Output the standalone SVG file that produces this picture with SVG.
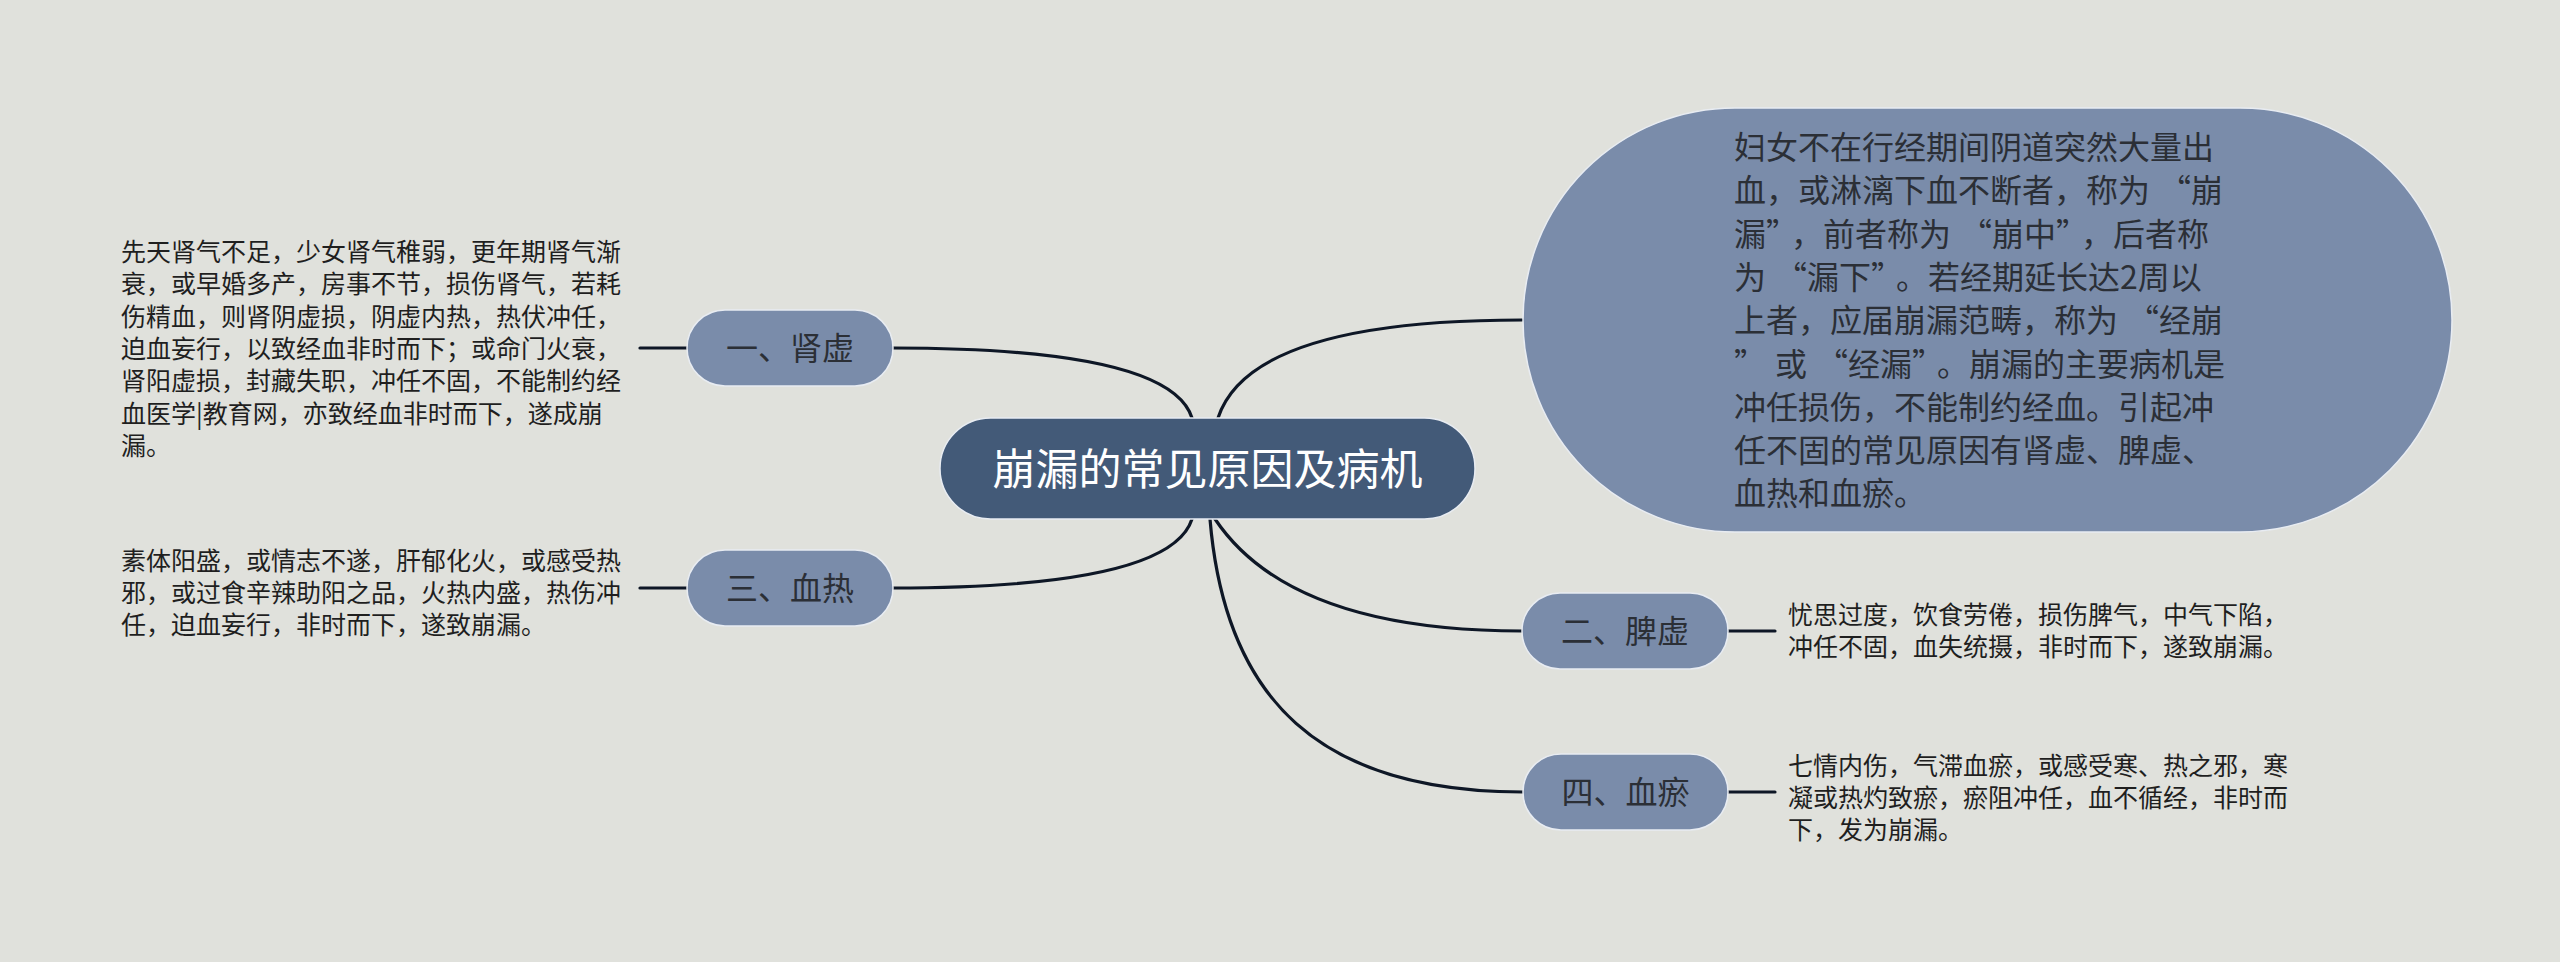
<svg xmlns="http://www.w3.org/2000/svg" width="2560" height="962" viewBox="0 0 2560 962">
<style>
.bg{fill:#e0e1dc}
.conn{fill:none;stroke:#0e1726;stroke-width:3.2;stroke-linecap:round}
.root{fill:#435a78;stroke:#e8ecf2;stroke-width:1.5}
.sub{fill:#7a8caa;stroke:#e8ecf2;stroke-width:1.5}
.t{font-family:"Noto Sans CJK SC","Noto Sans CJK JP",sans-serif}
.rt{font-size:43px;fill:#ffffff;text-anchor:middle}
.st{font-size:32px;fill:#2b2f36;text-anchor:middle}
.bt{font-size:32px;fill:#2b2f36}
.lt{font-size:25px;fill:#1f1f1f}
.qc{letter-spacing:9px}
</style>
<rect class="bg" x="0" y="0" width="2560" height="962"/>
<g id="connectors">
<path class="conn" d="M1192,418 Q1170,348 893,348"/>
<path class="conn" d="M1218,418 Q1250,320 1522,320"/>
<path class="conn" d="M1192,519 Q1170,588 893,588"/>
<path class="conn" d="M1215,519 Q1290,631 1522,631"/>
<path class="conn" d="M1210,519 C1225,700 1320,792 1523,792"/>
<path class="conn" d="M640,348 L687,348"/>
<path class="conn" d="M640,588 L687,588"/>
<path class="conn" d="M1728,631 L1775,631"/>
<path class="conn" d="M1728,792 L1775,792"/>
</g>
<g id="root">
<rect class="root" x="940" y="418" width="535" height="101" rx="50.5"/>
<text class="t rt" x="1207.5" y="485">崩漏的常见原因及病机</text>
</g>
<g id="intro">
<rect class="sub" x="1523" y="108" width="929" height="424" rx="212"/>
<text class="t bt" x="1734">
<tspan x="1734" y="159">妇女不在行经期间阴道突然大量出</tspan>
<tspan x="1734" y="202.3">血，或淋漓下血不断者，称为<tspan dx="9">“</tspan>崩</tspan>
<tspan x="1734" y="245.6">漏<tspan class="qc">”</tspan>，前者称为<tspan dx="9">“</tspan>崩中<tspan class="qc">”</tspan>，后者称</tspan>
<tspan x="1734" y="288.9">为<tspan dx="9">“</tspan>漏下<tspan class="qc">”</tspan>。若经期延长达2周以</tspan>
<tspan x="1734" y="332.2">上者，应届崩漏范畴，称为<tspan dx="9">“</tspan>经崩</tspan>
<tspan x="1734" y="375.5"><tspan class="qc">”</tspan>或<tspan dx="9">“</tspan>经漏<tspan class="qc">”</tspan>。崩漏的主要病机是</tspan>
<tspan x="1734" y="418.8">冲任损伤，不能制约经血。引起冲</tspan>
<tspan x="1734" y="462.1">任不固的常见原因有肾虚、脾虚、</tspan>
<tspan x="1734" y="505.4">血热和血瘀。</tspan>
</text>
</g>
<g id="shenxu">
<rect class="sub" x="687" y="310" width="206" height="76" rx="38"/>
<text class="t st" x="790" y="360">一、肾虚</text>
</g>
<g id="shenxu-text">
<text class="t lt">
<tspan x="121" y="261">先天肾气不足，少女肾气稚弱，更年期肾气渐</tspan>
<tspan x="121" y="293.3">衰，或早婚多产，房事不节，损伤肾气，若耗</tspan>
<tspan x="121" y="325.6">伤精血，则肾阴虚损，阴虚内热，热伏冲任，</tspan>
<tspan x="121" y="357.9">迫血妄行，以致经血非时而下；或命门火衰，</tspan>
<tspan x="121" y="390.2">肾阳虚损，封藏失职，冲任不固，不能制约经</tspan>
<tspan x="121" y="422.5">血医学|教育网，亦致经血非时而下，遂成崩</tspan>
<tspan x="121" y="454.8">漏。</tspan>
</text>
</g>
<g id="xuere">
<rect class="sub" x="687" y="550" width="206" height="76" rx="38"/>
<text class="t st" x="790" y="600">三、血热</text>
</g>
<g id="xuere-text">
<text class="t lt">
<tspan x="121" y="569.5">素体阳盛，或情志不遂，肝郁化火，或感受热</tspan>
<tspan x="121" y="601.8">邪，或过食辛辣助阳之品，火热内盛，热伤冲</tspan>
<tspan x="121" y="634.1">任，迫血妄行，非时而下，遂致崩漏。</tspan>
</text>
</g>
<g id="pixu">
<rect class="sub" x="1522" y="593" width="206" height="76" rx="38"/>
<text class="t st" x="1625" y="643">二、脾虚</text>
</g>
<g id="pixu-text">
<text class="t lt">
<tspan x="1788" y="623.5">忧思过度，饮食劳倦，损伤脾气，中气下陷，</tspan>
<tspan x="1788" y="655.8">冲任不固，血失统摄，非时而下，遂致崩漏。</tspan>
</text>
</g>
<g id="xueyu">
<rect class="sub" x="1523" y="754" width="205" height="76" rx="38"/>
<text class="t st" x="1625.5" y="804">四、血瘀</text>
</g>
<g id="xueyu-text">
<text class="t lt">
<tspan x="1788" y="774.5">七情内伤，气滞血瘀，或感受寒、热之邪，寒</tspan>
<tspan x="1788" y="806.8">凝或热灼致瘀，瘀阻冲任，血不循经，非时而</tspan>
<tspan x="1788" y="839.1">下，发为崩漏。</tspan>
</text>
</g>
</svg>
